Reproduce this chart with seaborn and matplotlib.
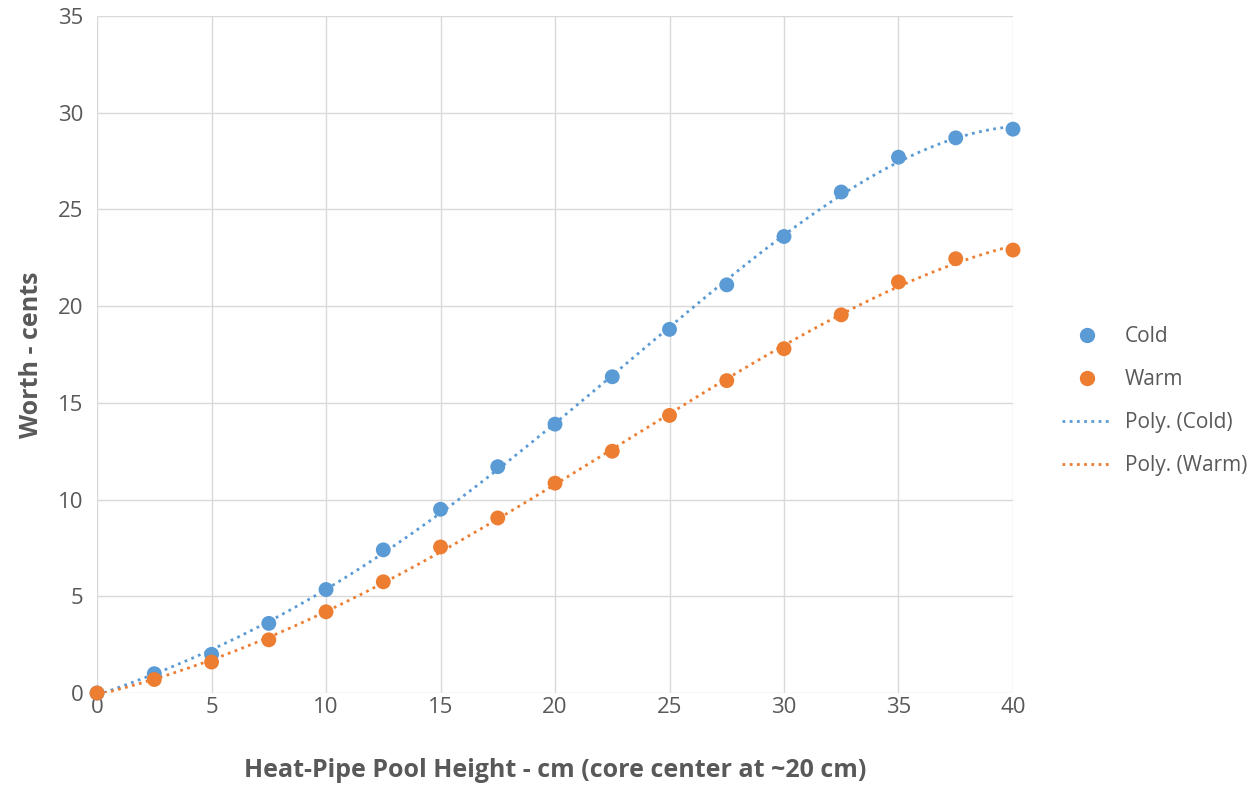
import numpy as np
import pandas as pd
import matplotlib
matplotlib.use("Agg")
import matplotlib.pyplot as plt
import seaborn as sns
from matplotlib.lines import Line2D

height_cm = [0, 2.5, 5, 7.5, 10, 12.5, 15, 17.5, 20, 22.5, 25, 27.5, 30, 32.5, 35, 37.5, 40]
cold = [0, 1.0, 2.0, 3.6, 5.35, 7.4, 9.5, 11.7, 13.9, 16.35, 18.8, 21.1, 23.6, 25.9, 27.7, 28.7, 29.15]
warm = [0, 0.7, 1.6, 2.75, 4.2, 5.75, 7.55, 9.05, 10.85, 12.5, 14.35, 16.15, 17.8, 19.55, 21.25, 22.45, 22.9]

blue = "#5B9BD5"
orange = "#ED7D31"
text_c = "#595959"
grid_c = "#D9D9D9"

sns.set_theme(style="whitegrid")
plt.rcParams['font.family'] = ['Open Sans', 'DejaVu Sans']

fig = plt.figure(figsize=(12.54, 7.87), dpi=100)
ax = fig.add_axes([0.0774, 0.1194, 0.7304, 0.8603])

df = pd.DataFrame({"x": height_cm * 2, "y": cold + warm,
                   "series": ["Cold"] * len(cold) + ["Warm"] * len(warm)})

sns.scatterplot(data=df, x="x", y="y", hue="series", palette=[blue, orange],
                s=115, edgecolor="none", ax=ax, zorder=3, legend=False, clip_on=False)

xs = np.linspace(0, 40, 300)
for vals, col in [(cold, blue), (warm, orange)]:
    c = np.polyfit(height_cm, vals, 4)
    sns.lineplot(x=xs, y=np.polyval(c, xs), color=col, ax=ax, lw=2,
                 linestyle=(0, (1, 1.6)), zorder=2)

ax.set_xlim(0, 40)
ax.set_ylim(0, 35)
ax.set_xticks(range(0, 41, 5))
ax.set_yticks(range(0, 36, 5))
ax.grid(True, color=grid_c, lw=1)
for s in ax.spines.values():
    s.set_visible(False)
ax.tick_params(axis='both', colors=text_c, labelsize=16, length=0)
ax.tick_params(axis='y', pad=10)
ax.tick_params(axis='x', pad=3)
ax.set_xlabel("Heat-Pipe Pool Height - cm (core center at ~20 cm)", fontsize=18,
              fontweight="bold", color=text_c, labelpad=29)
ax.set_ylabel("Worth - cents", fontsize=18, fontweight="bold", color=text_c, labelpad=10)

handles = [
    Line2D([], [], marker="o", color=blue, linestyle="none", markersize=10),
    Line2D([], [], marker="o", color=orange, linestyle="none", markersize=10),
    Line2D([], [], color=blue, lw=2, linestyle=(0, (1, 1.6))),
    Line2D([], [], color=orange, lw=2, linestyle=(0, (1, 1.6))),
]
leg = ax.legend(handles, ["Cold", "Warm", "Poly. (Cold)", "Poly. (Warm)"],
                loc="center left", bbox_to_anchor=(1.054, 0.431), frameon=False,
                fontsize=15, labelspacing=1.05, handlelength=2.4, handletextpad=0.6,
                borderaxespad=0, borderpad=0)
for t in leg.get_texts():
    t.set_color(text_c)

fig.savefig("out.png", dpi=100)
